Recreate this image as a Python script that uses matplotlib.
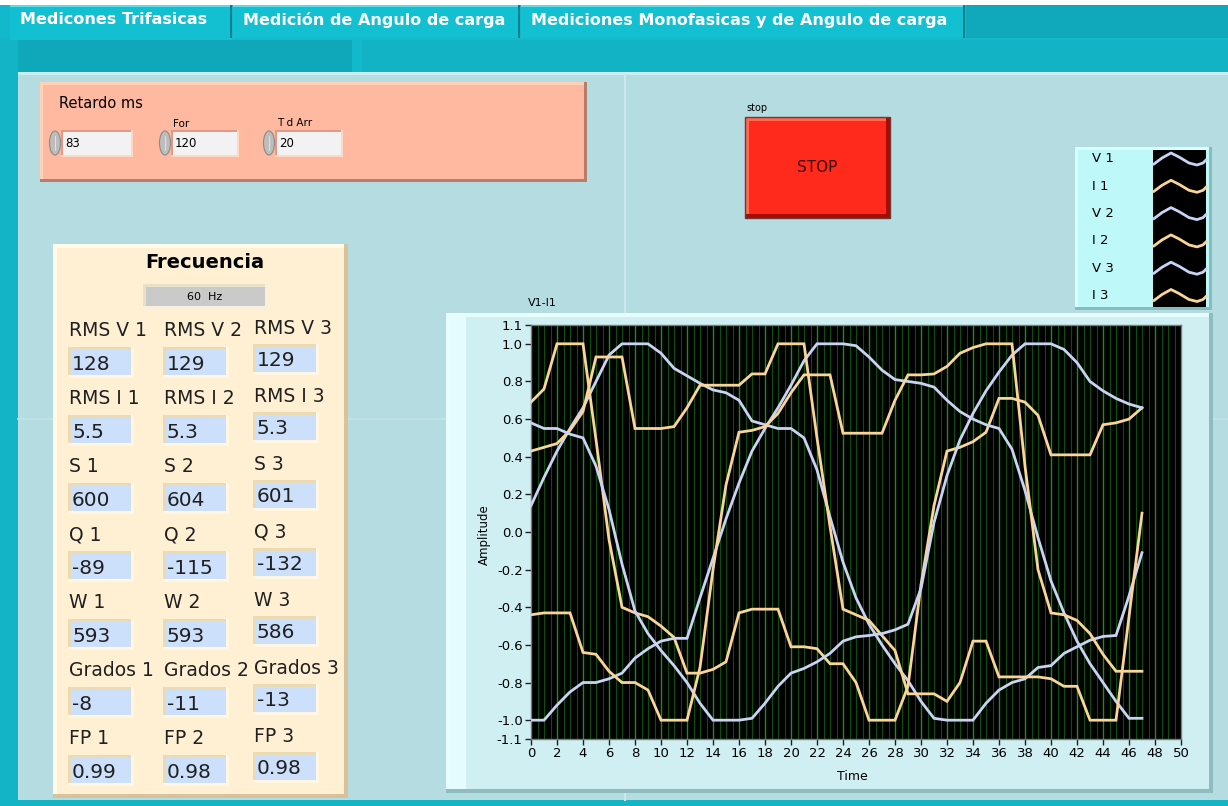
import numpy as np
import matplotlib
matplotlib.use("Agg")
import matplotlib.pyplot as plt
from matplotlib.patches import Rectangle, Ellipse

# ---- chart data (one sample per time step) ----
time = list(range(48))
v1 = [0.14, 0.29, 0.43, 0.55, 0.66, 0.80, 0.94, 1.0, 1.0, 1.0, 0.95, 0.87, 0.83, 0.79, 0.755, 0.74,
      0.70, 0.59, 0.57, 0.55, 0.55, 0.50, 0.33, 0.08, -0.16, -0.35, -0.49, -0.60, -0.70, -0.79, -0.90, -0.99,
      -1.0, -1.0, -1.0, -0.91, -0.84, -0.80, -0.78, -0.72, -0.71, -0.645, -0.61, -0.575, -0.555, -0.55, -0.34, -0.11]
i1 = [0.69, 0.76, 1.0, 1.0, 1.0, 0.49, -0.04, -0.40, -0.43, -0.45, -0.50, -0.56, -0.75, -0.75, -0.73, -0.69,
      -0.43, -0.41, -0.41, -0.41, -0.61, -0.61, -0.62, -0.70, -0.70, -0.80, -1.0, -1.0, -1.0, -0.82, -0.28, 0.14,
      0.43, 0.45, 0.48, 0.53, 0.71, 0.71, 0.69, 0.62, 0.41, 0.41, 0.41, 0.41, 0.57, 0.58, 0.60, 0.66]
v2 = [-1.0, -1.0, -0.92, -0.85, -0.80, -0.80, -0.78, -0.75, -0.67, -0.62, -0.58, -0.565, -0.565, -0.35, -0.14, 0.07,
      0.26, 0.43, 0.55, 0.66, 0.78, 0.91, 1.0, 1.0, 1.0, 0.99, 0.93, 0.86, 0.81, 0.80, 0.79, 0.77,
      0.70, 0.64, 0.60, 0.57, 0.55, 0.44, 0.22, -0.03, -0.26, -0.43, -0.58, -0.70, -0.80, -0.90, -0.99, -0.99]
i2 = [0.43, 0.45, 0.47, 0.54, 0.64, 0.93, 0.93, 0.93, 0.55, 0.55, 0.55, 0.56, 0.66, 0.78, 0.78, 0.78,
      0.78, 0.84, 0.84, 1.0, 1.0, 1.0, 0.50, 0.03, -0.41, -0.44, -0.47, -0.55, -0.63, -0.86, -0.86, -0.86,
      -0.90, -0.80, -0.58, -0.58, -0.77, -0.77, -0.77, -0.77, -0.78, -0.82, -0.82, -1.0, -1.0, -1.0, -0.45, 0.10]
v3 = [0.58, 0.55, 0.55, 0.52, 0.50, 0.35, 0.12, -0.17, -0.42, -0.54, -0.63, -0.71, -0.80, -0.91, -1.0, -1.0,
      -1.0, -0.99, -0.91, -0.82, -0.75, -0.725, -0.69, -0.645, -0.58, -0.557, -0.55, -0.54, -0.52, -0.49, -0.30, 0.05,
      0.30, 0.49, 0.63, 0.75, 0.85, 0.94, 1.0, 1.0, 1.0, 0.97, 0.90, 0.80, 0.75, 0.71, 0.68, 0.66]
i3 = [-0.44, -0.43, -0.43, -0.43, -0.64, -0.65, -0.74, -0.80, -0.80, -0.84, -1.0, -1.0, -1.0, -0.72, -0.20, 0.25,
      0.53, 0.54, 0.56, 0.63, 0.74, 0.835, 0.835, 0.835, 0.525, 0.525, 0.525, 0.525, 0.70, 0.835, 0.835, 0.84,
      0.88, 0.95, 0.98, 1.0, 1.0, 1.0, 0.35, -0.20, -0.43, -0.44, -0.47, -0.54, -0.65, -0.74, -0.74, -0.74]

series_names = ["V 1", "I 1", "V 2", "I 2", "V 3", "I 3"]
series_data = [v1, i1, v2, i2, v3, i3]

y_ticks = [1.1, 1.0, 0.8, 0.6, 0.4, 0.2, 0.0, -0.2, -0.4, -0.6, -0.8, -1.0, -1.1]
x_ticks = list(range(0, 51, 2))

tab_names = ["Medicones Trifasicas", "Medición de Angulo de carga",
             "Mediciones Monofasicas y de Angulo de carga"]

ctrl_names = ["Retardo ms", "For", "T d Arr"]
ctrl_values = ["83", "120", "20"]

freq_text = "60  Hz"
meas_labels = [["RMS V 1", "RMS V 2", "RMS V 3"],
               ["RMS I 1", "RMS I 2", "RMS I 3"],
               ["S 1", "S 2", "S 3"],
               ["Q 1", "Q 2", "Q 3"],
               ["W 1", "W 2", "W 3"],
               ["Grados 1", "Grados 2", "Grados 3"],
               ["FP 1", "FP 2", "FP 3"]]
meas_values = [["128", "129", "129"],
               ["5.5", "5.3", "5.3"],
               ["600", "604", "601"],
               ["-89", "-115", "-132"],
               ["593", "593", "586"],
               ["-8", "-11", "-13"],
               ["0.99", "0.98", "0.98"]]

# ---- styling ----
V_COLOR = "#c9d3f4"
I_COLOR = "#fbd497"
NARROW = ["DejaVu Sans Condensed", "Liberation Sans Narrow", "DejaVu Sans"]

W, H = 1228, 806
fig = plt.figure(figsize=(W / 100, H / 100), dpi=100)
bg = fig.add_axes([0, 0, 1, 1])
bg.set_xlim(0, W)
bg.set_ylim(H, 0)
bg.axis("off")


def rect(x0, y0, x1, y1, fc, ec="none", lw=0, z=1):
    bg.add_patch(Rectangle((x0, y0), x1 - x0, y1 - y0, facecolor=fc, edgecolor=ec, linewidth=lw, zorder=z))


def bevel(x0, y0, x1, y1, fc, light, dark, t=3, z=1):
    rect(x0, y0, x1, y1, fc, z=z)
    rect(x0, y0, x1, y0 + t, light, z=z)
    rect(x0, y0, x0 + t, y1, light, z=z)
    rect(x0, y1 - t, x1, y1, dark, z=z)
    rect(x1 - t, y0, x1, y1, dark, z=z)


# page background and tab strip
rect(0, 0, W, H, "#b5dce0", z=0)
rect(0, 0, W, 5, "#ffffff")
rect(0, 5, W, 72, "#12b9ca")
rect(966, 5, W, 38, "#0fa9bb")
rect(10, 40, 352, 72, "#0ea8ba")
rect(362, 40, W, 72, "#12b3c5")
rect(0, 38, 18, H, "#12b4c6")
rect(0, 800, W, H, "#12b4c6")
rect(18, 72, W, 75, "#c8eef0")
bg.plot([625, 625], [75, 800], color="#cbe9ec", lw=1.5, zorder=1)
bg.plot([18, 1228], [419, 419], color="#c3e4e7", lw=1.2, zorder=1)

tab_edges = [(10, 232), (233, 520), (521, 965)]
for (x0, x1), name in zip(tab_edges, tab_names):
    rect(x0, 5, x1, 38 if x0 > 10 else 40, "#13c0d1")
    rect(x0, 5, x1, 7, "#5fdbe6")
    rect(x1 - 2, 5, x1, 38, "#087f8e")
    bg.text(x0 + 10, 20, name, color="white", fontsize=11.5, fontweight="bold",
            va="center", ha="left", family="DejaVu Sans", zorder=3)

# salmon control cluster
bevel(40, 82, 587, 182, "#ffb9a1", "#ffd2b6", "#b77c6c", t=3)
ctrl_x = [63, 173, 277]
ctrl_label_y = [104, 124, 123]
ctrl_label_size = [10.5, 7.5, 7.5]
for cx, name, val, ly, fs in zip(ctrl_x, ctrl_names, ctrl_values, ctrl_label_y, ctrl_label_size):
    bg.text(cx - 4 if fs > 8 else cx, ly, name, fontsize=fs, family=NARROW, va="center", ha="left", zorder=3)
    bevel(cx - 2, 130, cx + 70 if cx == 63 else cx + 66, 157, "#f2f2f2", "#e09a85", "#ffd8c4", t=2, z=2)
    bg.text(cx + 2, 143.5, val, fontsize=8.5, family=NARROW, va="center", ha="left", zorder=3)
    bg.add_patch(Ellipse((cx - 8, 143), 11, 24, facecolor="#bdbdbd", edgecolor="#8a8a8a", lw=0.8, zorder=3))
    bg.plot([cx - 8, cx - 8], [136, 150], color="#e6e6e6", lw=0.6, zorder=4)

# stop button
bg.text(746, 108, "stop", fontsize=7, family=NARROW, va="center", ha="left")
bevel(745, 117, 890, 218, "#ff2a1c", "#ff6a50", "#a80c00", t=4, z=2)
rect(745, 117, 890, 218, "none", ec="#6b3a3a", lw=1, z=3)
bg.text(817, 168, "STOP", fontsize=11, color="#3a0000", family="DejaVu Sans",
        ha="center", va="center", zorder=4)

# plot legend
bevel(1075, 147, 1212, 310, "#bff8f8", "#d8ffff", "#86bcc0", t=3, z=2)
rect(1153, 150, 1206, 307, "#000000", z=3)
swatch_dx = [1, 9, 18, 26, 36, 44, 50, 53]
swatch_dy = [5, -1, -6, -2, 4, 6, 4, 1]
for k, name in enumerate(series_names):
    yc = 159 + k * 27.3
    col = V_COLOR if name.startswith("V") else I_COLOR
    bg.text(1092, yc, name, fontsize=9.5, family="DejaVu Sans", va="center", ha="left", zorder=4)
    bg.plot([1153 + d for d in swatch_dx], [yc + d for d in swatch_dy], color=col, lw=2, zorder=4)

# frecuencia panel
bevel(53, 244, 348, 798, "#fff0d4", "#fffbe8", "#d9c19a", t=4)
bg.text(205, 263, "Frecuencia", fontsize=14, fontweight="bold", family="DejaVu Sans",
        ha="center", va="center")
bevel(143, 284, 268, 309, "#cacaca", "#e8e0c8", "#f8f0dc", t=3, z=2)
bg.text(205, 297, freq_text, fontsize=8, family="DejaVu Sans", ha="center", va="center", zorder=3)

col_x = [68, 163, 253]
col_dy = [0, 0, -3]
for r in range(len(meas_labels)):
    ly = 331 + r * 68
    by = 347 + r * 68
    for c in range(3):
        x0 = col_x[c]
        y0 = by + col_dy[c]
        bg.text(x0 + 1, ly + col_dy[c], meas_labels[r][c], fontsize=13.5, family="DejaVu Sans",
                ha="left", va="center", color="#202020", zorder=3)
        bevel(x0, y0, x0 + 66, y0 + 31, "#cde0fb", "#eadbb5", "#fff7e4", t=3, z=2)
        bg.text(x0 + 4, y0 + 17, meas_values[r][c], fontsize=14.5, family="DejaVu Sans",
                ha="left", va="center", color="#202020", zorder=3)

# graph frame
bevel(446, 313, 1213, 793, "#cfeff3", "#e6fcfd", "#8fbcc0", t=4)
rect(450, 317, 466, 789, "#e4fcfd", z=1)
bg.text(528, 303, "V1-I1", fontsize=8, family=NARROW, ha="left", va="center")
bg.text(852, 776, "Time", fontsize=9, family=NARROW, ha="center", va="center")
bg.text(484, 535, "Amplitude", fontsize=8.5, family=NARROW, ha="center", va="center", rotation=90)

# ---- waveform graph ----
ax = fig.add_axes([531 / W, 1 - 739 / H, 650 / W, 414 / H])
ax.set_facecolor("black")
ax.set_xlim(0, 50)
ax.set_ylim(-1.1, 1.1)
for gx in np.arange(0.5, 50, 0.5):
    major = abs(gx / 2 - round(gx / 2)) < 1e-9
    ax.axvline(gx, color="#1e8c1e" if major else "#0b4f0b", lw=1.0 if major else 0.8, zorder=1)

for name, vals in zip(series_names, series_data):
    col = V_COLOR if name.startswith("V") else I_COLOR
    ax.plot(time, vals, color=col, lw=2, zorder=3, solid_joinstyle="miter")

ax.set_yticks(y_ticks)
ax.set_yticklabels([f"{t:.1f}" for t in y_ticks])
ax.set_xticks(x_ticks)
ax.tick_params(axis="both", direction="out", length=4, width=1, color="#202020",
               labelsize=9.5, pad=2)
for lab in ax.get_xticklabels() + ax.get_yticklabels():
    lab.set_family(NARROW)
for s in ax.spines.values():
    s.set_color("#7a7a7a")
    s.set_linewidth(1)

fig.savefig("out.png", dpi=100)
